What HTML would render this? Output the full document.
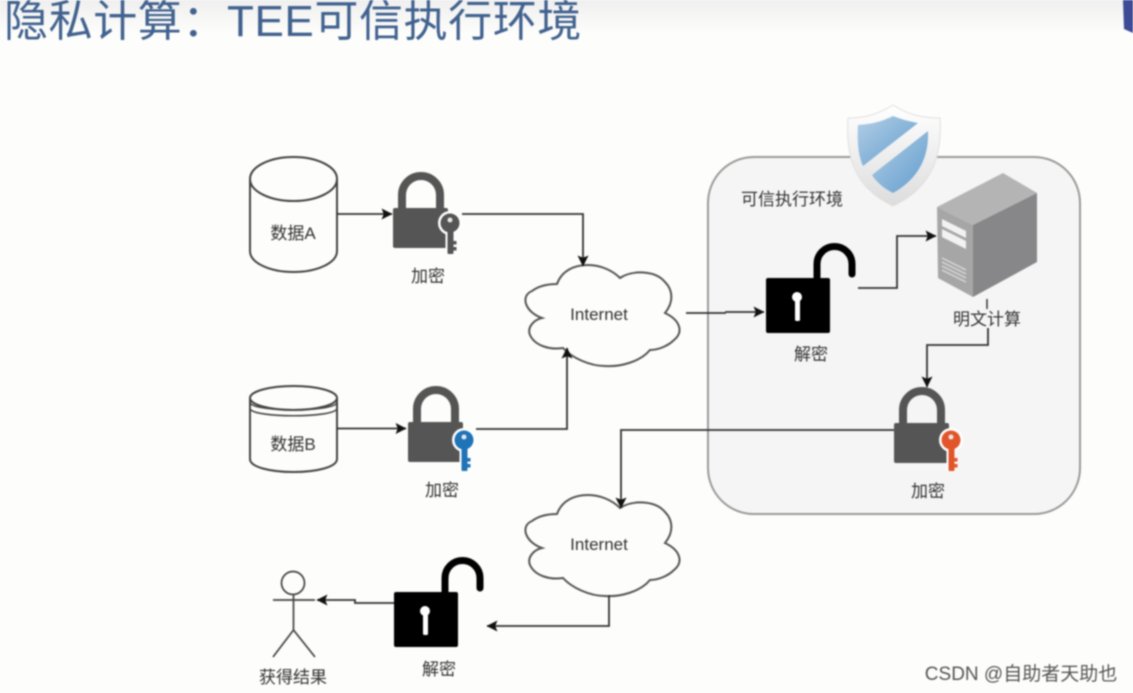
<!DOCTYPE html>
<html><head><meta charset="utf-8"><style>
html,body{margin:0;padding:0;background:#fdfdfb}
svg{display:block;filter:blur(.7px)}
text{font-family:"Liberation Sans","Noto Sans CJK SC",sans-serif;text-anchor:middle;fill:#333;font-size:17px}
</style></head><body>
<svg width="1133" height="693" viewBox="0 0 1133 693" xmlns="http://www.w3.org/2000/svg">
<defs>
<linearGradient id="top" x1="0" y1="0" x2="0" y2="1"><stop offset="0" stop-color="#efefef"/><stop offset="1" stop-color="#fdfdfb"/></linearGradient>
<linearGradient id="bl" x1="0" y1="0" x2="1" y2="1"><stop offset="0" stop-color="#b4cfe6"/><stop offset="1" stop-color="#5f9ccd"/></linearGradient>
<linearGradient id="sh" x1="0" y1="0" x2="0" y2="1"><stop offset="0" stop-color="#ffffff"/><stop offset="1" stop-color="#dcdcdc"/></linearGradient>
<marker id="a" viewBox="0 0 10 10" refX="9.5" refY="5" markerWidth="11" markerHeight="12" markerUnits="userSpaceOnUse" orient="auto"><path d="M0 0L10 5L0 10L2 5Z" fill="#111"/></marker>
<g id="closed">
<path d="M402 209V195A19 19 0 0 1 440 195V209" fill="none" stroke="#555" stroke-width="8"/>
<rect x="393" y="208" width="55" height="40" rx="2" fill="#555"/>
</g>
<g id="open">
<rect x="766" y="278" width="64" height="55" rx="2" fill="#000"/>
<path d="M817 279V264A17.500 17.500 0 0 1 852 264V274" fill="none" stroke="#000" stroke-width="7" stroke-linecap="round"/>
<circle cx="797" cy="297" r="5" fill="#fff"/><rect x="795" y="298" width="5" height="23" rx="1.500" fill="#fff"/>
</g>
<g id="key">
<circle cx="0" cy="0" r="12" fill="#fff"/>
<rect x="-4.500" y="4" width="9" height="27" fill="#fff"/>
<rect x="-2.500" y="6" width="6" height="25" rx="1" fill="currentColor"/>
<rect x="3" y="18" width="3.500" height="3.500" fill="currentColor"/><rect x="3" y="24" width="3.500" height="3.500" fill="currentColor"/>
<circle cx="0" cy="0" r="9.500" fill="currentColor"/>
<circle cx="0" cy="-3" r="2.500" fill="#e8e8e8"/>
</g>
<path id="cloud" d="M542 318C525 312 520 296 532 291C540 285 550 284 557 284C562 270 575 265 588 265C600 265 612 270 620 278C632 270 655 270 665 282C673 290 674 302 665 313C680 320 684 332 674 340C668 346 658 350 650 350C640 362 620 367 605 366C590 366 572 358 563 348C550 350 535 346 530 335C527 328 533 320 542 318Z" fill="#fdfdfb" stroke="#555" stroke-width="2"/>
</defs>
<rect width="1133" height="693" fill="#fdfdfb"/>
<rect width="1133" height="34" fill="url(#top)"/>
<path d="M1123 0H1133V33L1124 29Z" fill="#3d4a94"/>
<text x="4" y="36" style="text-anchor:start;font-size:44px;letter-spacing:.6px;fill:#41628f">隐私计算：TEE可信执行环境</text>

<!-- TEE box -->
<rect x="708" y="157" width="372" height="357" rx="46" fill="#f5f5f5" stroke="#9a9a9a" stroke-width="2"/>

<!-- shield -->
<path d="M893 105C875 116 862 118 848 118C846 150 850 186 893 206C936 186 942 150 940 118C925 118 910 116 893 105Z" fill="url(#sh)" stroke="#e0e0e0"/>
<path d="M858 125C875 124 885 120 893 116C903 120 912 122 918 123L863 166C858 155 857 140 858 125Z" fill="url(#bl)"/>
<path d="M928 131C929 155 920 178 893 193C885 189 877 183 872 175Z" fill="url(#bl)"/>

<!-- server -->
<path d="M937 207L1003 173L1037 193L973 225Z" fill="#b4b4b4"/>
<path d="M937 207L973 225V297L938 278Z" fill="#a6a6a6"/>
<path d="M973 225L1037 193V262L973 297Z" fill="#87878a"/>
<path d="M942 219L966 231V238L942 226ZM942 229L966 241V249L942 237Z" fill="#f2f2f2"/>
<path d="M942 262L966 274M942 266L966 278M942 270L966 282M942 258L966 270" stroke="#d8d8d8" stroke-width="1.500"/>

<!-- cylinders -->
<path d="M250 179V251C250 263 270 272 293.500 272C317 272 337 263 337 251V179" fill="#fdfdfb" stroke="#444" stroke-width="2"/>
<ellipse cx="293.500" cy="179" rx="43.500" ry="22" fill="#fdfdfb" stroke="#444" stroke-width="2"/>
<path d="M250 398V459C250 467 270 472 293.500 472C317 472 337 467 337 459V398" fill="#fdfdfb" stroke="#444" stroke-width="2"/>
<ellipse cx="293.500" cy="398" rx="43.500" ry="12" fill="#fdfdfb" stroke="#444" stroke-width="2"/>
<path d="M250 403C255 412 332 412 337 403M250 409C255 418 332 418 337 409" fill="none" stroke="#444" stroke-width="1.600"/>

<!-- locks -->
<use href="#closed"/>
<use href="#closed" x="15" y="214"/>
<use href="#closed" x="501" y="215"/>
<use href="#key" x="450" y="223" color="#555"/>
<use href="#key" x="464" y="440" color="#1f73b7"/>
<use href="#key" x="951" y="440" color="#e2552a"/>
<use href="#open"/>
<use href="#open" x="-372" y="314"/>

<!-- clouds -->
<use href="#cloud"/>
<use href="#cloud" y="230"/>

<!-- connectors -->
<g fill="none" stroke="#333" stroke-width="1.800" marker-end="url(#a)">
<path d="M337 214H392"/>
<path d="M462 214H583V266"/>
<path d="M337 428.500H406"/>
<path d="M476 429H567V348"/>
<path d="M686 313H725L726 312H764"/>
<path d="M858 288H897V236H936"/>
<path d="M988 328V345H927V387"/>
<path d="M894 430H621V508"/>
<path d="M609 595V626H487"/>
<path d="M394 603H355V600H317"/>
</g>
<path d="M987 299V309" stroke="#333" stroke-width="1.500"/>

<!-- person -->
<g fill="none" stroke="#444" stroke-width="1.700">
<circle cx="293" cy="583" r="11.500"/>
<path d="M293.500 594.500V630M273 600H315M293.500 630L273 657M293.500 630L315 657"/>
</g>

<!-- labels -->
<rect x="950" y="309" width="74" height="18" fill="#f5f5f5"/>
<text x="293" y="239">数据A</text>
<text x="293" y="450">数据B</text>
<text x="428" y="282">加密</text>
<text x="442" y="496">加密</text>
<text x="599" y="320">Internet</text>
<text x="599" y="550">Internet</text>
<text x="792" y="205">可信执行环境</text>
<text x="987" y="325">明文计算</text>
<text x="811" y="360">解密</text>
<text x="928" y="497">加密</text>
<text x="439" y="675">解密</text>
<text x="293" y="683">获得结果</text>
<text x="1021" y="680" style="font-size:19px;fill:#555">CSDN @自助者天助也</text>
</svg>
</body></html>
